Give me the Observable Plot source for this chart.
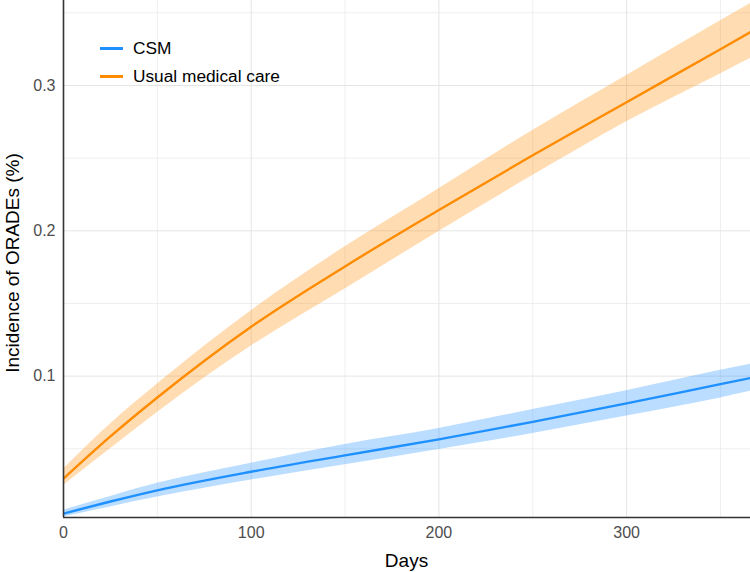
<!DOCTYPE html>
<html>
<head>
<meta charset="utf-8">
<script src="https://cdn.jsdelivr.net/npm/d3@7"></script>
<script src="https://cdn.jsdelivr.net/npm/@observablehq/plot@0.6"></script>
<style>
  html, body { margin: 0; padding: 0; background: #fff; }
  #wrap { position: relative; width: 750px; height: 572px; font-family: "Liberation Sans", Arial, sans-serif; }
  .legend { position: absolute; left: 100px; top: 34px; font-size: 17.3px; color: #000; }
  .legend .row { display: flex; align-items: center; height: 28.4px; }
  .legend .sw { width: 23px; height: 3px; margin-right: 10px; }
</style>
</head>
<body>
<div id="wrap"></div>
<script>
const days = [0, 25, 50, 100, 150, 200, 250, 300, 350, 366];

const csmMid   = [0.0054, 0.0137, 0.0214, 0.0342, 0.0455, 0.0565, 0.0685, 0.0812, 0.0945, 0.0987];
const csmLow   = [0.0031, 0.0100, 0.0168, 0.0285, 0.0390, 0.0495, 0.0605, 0.0725, 0.0850, 0.0895];
const csmHigh  = [0.0077, 0.0172, 0.0262, 0.0400, 0.0530, 0.0640, 0.0770, 0.0900, 0.1040, 0.1082];

const umcMid   = [0.0295, 0.0585, 0.0853, 0.1340, 0.1755, 0.2143, 0.2520, 0.2885, 0.3250, 0.3368];
const umcLow   = [0.0248, 0.0500, 0.0750, 0.1207, 0.1600, 0.1995, 0.2380, 0.2750, 0.3080, 0.3185];
const umcHigh  = [0.0360, 0.0670, 0.0945, 0.1450, 0.1890, 0.2290, 0.2690, 0.3068, 0.3445, 0.3565];

const seriesNames = ["CSM", "Usual medical care"];
const seriesColors = ["#1E90FF", "#FF8C00"];

const xMajor = [0, 100, 200, 300];
const xMinor = [50, 150, 250, 350];
const yMajor = [0.1, 0.2, 0.3];
const yMinor = [0.05, 0.15, 0.25, 0.35];

const xTitle = "Days";
const yTitle = "Incidence of ORADEs (%)";

const rows = [];
days.forEach((d, i) => {
  rows.push({day: d, series: seriesNames[0], mid: csmMid[i], lo: csmLow[i], hi: csmHigh[i]});
  rows.push({day: d, series: seriesNames[1], mid: umcMid[i], lo: umcLow[i], hi: umcHigh[i]});
});

const chart = Plot.plot({
  width: 750,
  height: 572,
  marginLeft: 63,
  marginBottom: 55,
  marginTop: 0,
  marginRight: 0,
  style: { fontFamily: "'Liberation Sans', Arial, sans-serif", background: "#fff" },
  x: { domain: [0, 366] },
  y: { domain: [0.0027, 0.3585] },
  color: { domain: seriesNames, range: seriesColors },
  marks: [
    Plot.gridX(xMinor, { stroke: "#ebebeb", strokeOpacity: 1, strokeWidth: 0.8 }),
    Plot.gridY(yMinor, { stroke: "#ebebeb", strokeOpacity: 1, strokeWidth: 0.8 }),
    Plot.gridX(xMajor, { stroke: "#e4e4e4", strokeOpacity: 1, strokeWidth: 1 }),
    Plot.gridY(yMajor, { stroke: "#e4e4e4", strokeOpacity: 1, strokeWidth: 1 }),
    Plot.areaY(rows, { x: "day", y1: "lo", y2: "hi", fill: "series", fillOpacity: 0.3, curve: "monotone-x", clip: true }),
    Plot.line(rows, { x: "day", y: "mid", stroke: "series", strokeWidth: 2.4, curve: "monotone-x", clip: true }),
    Plot.axisX(xMajor, { tickSize: 0, tickPadding: 9, fontSize: 16, color: "#4d4d4d", label: null }),
    Plot.axisY(yMajor, { tickSize: 0, tickPadding: 8, fontSize: 16, color: "#4d4d4d", label: null, tickFormat: d => String(d) }),
    Plot.ruleX([0], { stroke: "#333", strokeWidth: 1.6 }),
    Plot.ruleY([0.0027], { stroke: "#333", strokeWidth: 1.6 })
  ]
});

const svg = d3.select(chart);
svg.append("text")
  .attr("x", (63 + 750) / 2).attr("y", 566.5)
  .attr("text-anchor", "middle")
  .attr("font-size", 19).attr("fill", "#000")
  .text(xTitle);
svg.append("text")
  .attr("transform", "translate(18.5,263) rotate(-90)")
  .attr("text-anchor", "middle")
  .attr("font-size", 19).attr("fill", "#000")
  .text(yTitle);

const wrap = document.getElementById("wrap");
wrap.appendChild(chart);

const legend = document.createElement("div");
legend.className = "legend";
seriesNames.forEach((name, i) => {
  const row = document.createElement("div");
  row.className = "row";
  const sw = document.createElement("div");
  sw.className = "sw";
  sw.style.background = seriesColors[i];
  const t = document.createElement("span");
  t.textContent = name;
  row.appendChild(sw);
  row.appendChild(t);
  legend.appendChild(row);
});
wrap.appendChild(legend);
</script>
</body>
</html>
